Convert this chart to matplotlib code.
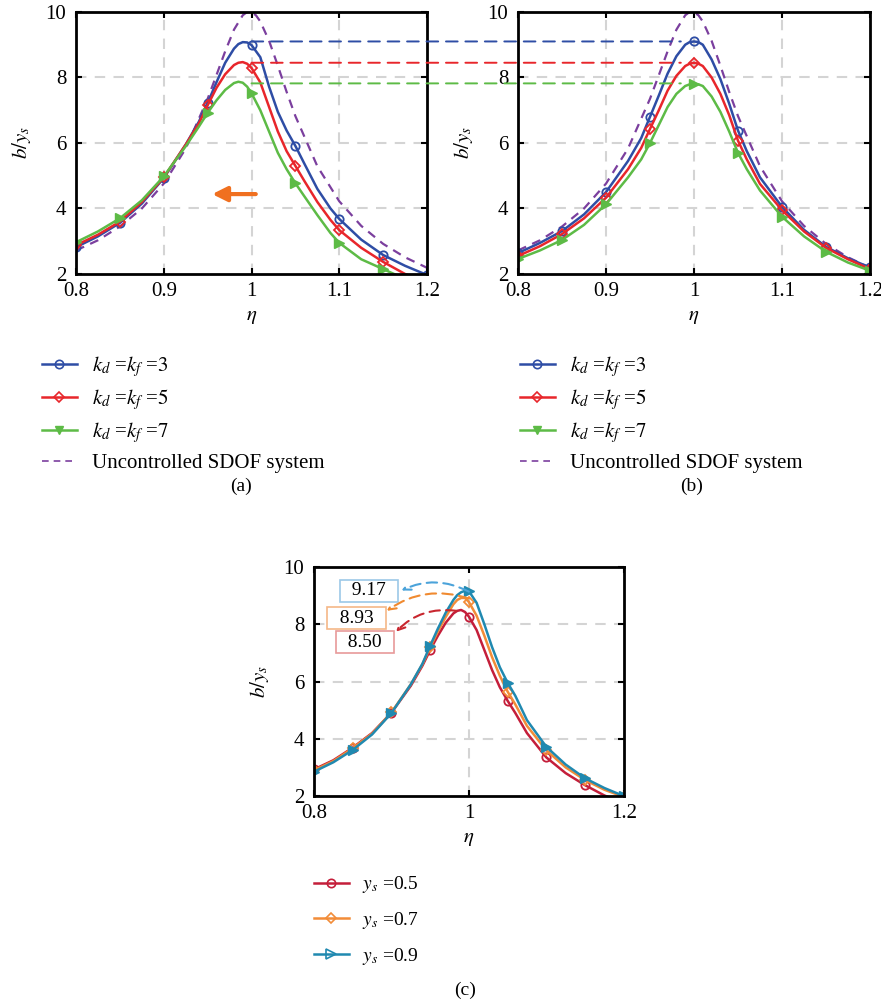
import numpy as np
import matplotlib
matplotlib.use('Agg')
import matplotlib.pyplot as plt
from matplotlib.lines import Line2D
from matplotlib.patches import ConnectionPatch

plt.rcParams['font.family'] = ['Liberation Serif', 'DejaVu Serif']
plt.rcParams['mathtext.fontset'] = 'stix'
plt.rcParams['font.size'] = 13

# ---- data ----
eta_marks = [0.80, 0.85, 0.90, 0.95, 1.00, 1.05, 1.10, 1.15, 1.20]

# uncontrolled SDOF system (same in a and b)
eta_u = [0.80, 0.825, 0.85, 0.875, 0.90, 0.925, 0.95, 0.96, 0.97, 0.98, 0.99, 0.995,
         1.00, 1.005, 1.01, 1.02, 1.03, 1.04, 1.05, 1.075, 1.10, 1.125, 1.15, 1.175, 1.20]
b_unc = [2.72, 3.03, 3.45, 4.00, 4.76, 5.83, 7.35, 8.07, 8.80, 9.46, 9.90, 10.0,
         9.99, 9.90, 9.71, 9.12, 8.36, 7.56, 6.82, 5.29, 4.22, 3.47, 2.92, 2.51, 2.19]

# panel (a)
eta_a = [0.80, 0.825, 0.85, 0.875, 0.90, 0.925, 0.94, 0.95, 0.96, 0.97, 0.98, 0.985,
         0.99, 0.995, 1.00, 1.01, 1.02, 1.03, 1.04, 1.05, 1.06, 1.075, 1.09, 1.10,
         1.125, 1.15, 1.175, 1.20]
a_k3 = [2.82, 3.15, 3.56, 4.15, 4.93, 5.95, 6.65, 7.22, 7.85, 8.45, 8.88, 9.02,
        9.08, 9.07, 8.99, 8.62, 7.72, 6.95, 6.38, 5.91, 5.38, 4.60, 4.00, 3.68,
        3.05, 2.58, 2.25, 1.97]
a_k5 = [2.88, 3.20, 3.60, 4.20, 4.95, 5.95, 6.60, 7.15, 7.68, 8.10, 8.38, 8.45,
        8.47, 8.42, 8.29, 7.85, 7.10, 6.35, 5.75, 5.30, 4.85, 4.20, 3.65, 3.34,
        2.80, 2.37, 2.00, 1.75]
a_k7 = [2.97, 3.30, 3.70, 4.25, 4.98, 5.90, 6.50, 6.92, 7.30, 7.62, 7.83, 7.87,
        7.84, 7.72, 7.52, 7.00, 6.35, 5.70, 5.20, 4.77, 4.38, 3.80, 3.25, 2.95,
        2.45, 2.15, 1.85, 1.62]

# panel (b)
eta_b = [0.80, 0.825, 0.85, 0.875, 0.90, 0.925, 0.94, 0.95, 0.96, 0.97, 0.98, 0.99,
         0.995, 1.00, 1.005, 1.01, 1.02, 1.03, 1.04, 1.05, 1.06, 1.075, 1.10, 1.125,
         1.15, 1.175, 1.20]
b_k3 = [2.64, 2.95, 3.31, 3.82, 4.50, 5.45, 6.15, 6.80, 7.45, 8.12, 8.65, 9.00,
        9.08, 9.10, 9.08, 9.00, 8.55, 7.95, 7.20, 6.38, 5.75, 4.95, 4.05, 3.35,
        2.83, 2.48, 2.20]
b_k5 = [2.55, 2.85, 3.22, 3.70, 4.33, 5.20, 5.85, 6.43, 7.00, 7.60, 8.05, 8.35,
        8.42, 8.45, 8.42, 8.35, 8.00, 7.50, 6.85, 6.07, 5.50, 4.75, 3.95, 3.30,
        2.80, 2.45, 2.15]
b_k7 = [2.46, 2.72, 3.04, 3.50, 4.13, 4.95, 5.50, 6.00, 6.55, 7.10, 7.50, 7.74,
        7.79, 7.80, 7.79, 7.74, 7.42, 6.95, 6.35, 5.70, 5.20, 4.55, 3.75, 3.15,
        2.68, 2.35, 2.10]
peak_levels = [9.10, 8.45, 7.82]

# panel (c)
eta_c = [0.80, 0.825, 0.85, 0.875, 0.90, 0.925, 0.94, 0.95, 0.96, 0.97, 0.98, 0.985,
         0.99, 0.995, 1.00, 1.01, 1.02, 1.03, 1.04, 1.05, 1.06, 1.075, 1.10, 1.125,
         1.15, 1.175, 1.20]
c_y05 = [2.93, 3.25, 3.69, 4.20, 4.91, 5.85, 6.55, 7.10, 7.60, 8.05, 8.38, 8.47,
         8.50, 8.43, 8.27, 7.80, 7.10, 6.40, 5.80, 5.33, 4.90, 4.20, 3.35, 2.80,
         2.38, 2.02, 1.75]
c_y07 = [2.90, 3.22, 3.67, 4.18, 4.92, 5.90, 6.60, 7.20, 7.75, 8.25, 8.70, 8.85,
         8.92, 8.92, 8.78, 8.30, 7.60, 6.85, 6.20, 5.65, 5.20, 4.45, 3.60, 3.00,
         2.56, 2.22, 1.97]
c_y09 = [2.85, 3.18, 3.61, 4.15, 4.90, 5.90, 6.62, 7.25, 7.85, 8.40, 8.85, 9.02,
         9.12, 9.17, 9.16, 8.75, 8.00, 7.20, 6.50, 5.96, 5.50, 4.65, 3.72, 3.10,
         2.62, 2.28, 2.00]
peak_labels = ['9.17', '8.93', '8.50']

labels_k = [r'$k_d$ =$k_f$ =$\mathit{3}$', r'$k_d$ =$k_f$ =$\mathit{5}$',
            r'$k_d$ =$k_f$ =$\mathit{7}$']
labels_y = [r'$y_s$ =0.5', r'$y_s$ =0.7', r'$y_s$ =0.9']

col_k = ['#2E4DA5', '#E8262B', '#5DBB46']
col_unc = '#7B3F9E'
col_y = ['#C41E3A', '#F28C38', '#2089B0']
grid_col = '#d4d4d4'


def marks(eta):
    return [i for i, e in enumerate(eta) if np.any(np.isclose(e, eta_marks))]


def style(ax, xticks, gridx):
    ax.set_xlim(0.8, 1.2)
    ax.set_ylim(2, 10)
    ax.set_xticks(xticks)
    ax.set_xticklabels([f'{t:g}' for t in xticks])
    ax.set_yticks([2, 4, 6, 8, 10])
    for g in gridx:
        ax.axvline(g, color=grid_col, lw=1.5, dashes=(5, 4), zorder=0)
    for g in [4, 6, 8]:
        ax.axhline(g, color=grid_col, lw=1.5, dashes=(5, 4), zorder=0)
    ax.tick_params(direction='in', top=True, right=True, length=4, width=1.5,
                   labelsize=15)
    ax.tick_params(axis='x', pad=6)
    ax.tick_params(axis='y', pad=7)
    for s in ax.spines.values():
        s.set_linewidth(2.0)
    ax.set_xlabel(r'$\eta$', fontsize=15, labelpad=4)
    ax.set_ylabel(r'$b/y_s$', fontsize=15, labelpad=9)


fig = plt.figure(figsize=(8.81, 10.07), dpi=100)
ax_a = fig.add_axes([0.0863, 0.7279, 0.3984, 0.2602])
ax_b = fig.add_axes([0.5880, 0.7279, 0.3995, 0.2602])
ax_c = fig.add_axes([0.3564, 0.2095, 0.3516, 0.2274])

# (a)
ax_a.plot(eta_u, b_unc, '--', color=col_unc, lw=1.6, dashes=(4, 3))
ax_a.plot(eta_a, a_k3, '-', color=col_k[0], lw=1.8, marker='o', ms=6, mfc='none',
          mew=1.3, markevery=marks(eta_a))
ax_a.plot(eta_a, a_k5, '-', color=col_k[1], lw=1.8, marker='D', ms=5, mfc='none',
          mew=1.3, markevery=marks(eta_a))
ax_a.plot(eta_a, a_k7, '-', color=col_k[2], lw=1.8, marker='>', ms=7,
          markevery=marks(eta_a))
ax_a.annotate('', xy=(0.952, 4.44), xytext=(1.008, 4.44),
              arrowprops=dict(arrowstyle='-|>', color='#F07020', lw=3, mutation_scale=22))
style(ax_a, [0.8, 0.9, 1.0, 1.1, 1.2], [0.9, 1.0, 1.1])

# (b)
ax_b.plot(eta_u, b_unc, '--', color=col_unc, lw=1.6, dashes=(4, 3))
ax_b.plot(eta_b, b_k3, '-', color=col_k[0], lw=1.8, marker='o', ms=6, mfc='none',
          mew=1.3, markevery=marks(eta_b))
ax_b.plot(eta_b, b_k5, '-', color=col_k[1], lw=1.8, marker='D', ms=5, mfc='none',
          mew=1.3, markevery=marks(eta_b))
ax_b.plot(eta_b, b_k7, '-', color=col_k[2], lw=1.8, marker='>', ms=7,
          markevery=marks(eta_b))
style(ax_b, [0.8, 0.9, 1.0, 1.1, 1.2], [0.9, 1.0, 1.1])

# dashed guide lines from (a) to (b)
for lev, c in zip(peak_levels, col_k):
    con = ConnectionPatch(xyA=(1.0, lev), coordsA=ax_a.transData,
                          xyB=(0.985, lev), coordsB=ax_b.transData,
                          color=c, lw=1.4, linestyle=(0, (6, 4)), zorder=5)
    fig.add_artist(con)

# (c)
ax_c.plot(eta_c, c_y05, '-', color=col_y[0], lw=1.8, marker='o', ms=6, mfc='none',
          mew=1.3, markevery=marks(eta_c))
ax_c.plot(eta_c, c_y07, '-', color=col_y[1], lw=1.8, marker='D', ms=5, mfc='none',
          mew=1.3, markevery=marks(eta_c))
ax_c.plot(eta_c, c_y09, '-', color=col_y[2], lw=1.8, marker='>', ms=7,
          markevery=marks(eta_c))
style(ax_c, [0.8, 1.0, 1.2], [1.0])

box_pos = [(0.871, 9.17), (0.855, 8.21), (0.866, 7.38)]
box_edge = ['#9CC8E8', '#F5B887', '#E89A9A']
arr_col = ['#4BA3DA', '#F08A30', '#C8262E']
arr_from = [(1.0, 9.14), (1.0, 8.90), (0.984, 8.47)]
arr_to = [(0.913, 9.18), (0.894, 8.47), (0.906, 7.74)]
for lab, pos, ec, ac, p0, p1 in zip(peak_labels, box_pos, box_edge, arr_col, arr_from, arr_to):
    ax_c.text(pos[0], pos[1], '  ' + lab + '  ', ha='center', va='center', fontsize=14,
              bbox=dict(boxstyle='square,pad=0.12', fc='white', ec=ec, lw=1.2), zorder=6)
    ax_c.annotate('', xy=p1, xytext=p0,
                  arrowprops=dict(arrowstyle='->', color=ac, lw=1.5, linestyle=(0, (5, 3)),
                                  connectionstyle='arc3,rad=0.25', shrinkA=0, shrinkB=0),
                  zorder=6)

# legends
h_k = [Line2D([], [], color=col_k[0], lw=1.8, marker='o', ms=6, mfc='none', mew=1.2),
       Line2D([], [], color=col_k[1], lw=1.8, marker='D', ms=5, mfc='none', mew=1.2),
       Line2D([], [], color=col_k[2], lw=1.8, marker='v', ms=6),
       Line2D([], [], color=col_unc, lw=1.2, dashes=(4, 3))]
lab_k = labels_k + ['Uncontrolled SDOF system']
for x0 in [0.026, 0.5687]:
    fig.legend(h_k, lab_k, loc='upper left', bbox_to_anchor=(x0, 0.667), frameon=False,
               fontsize=15, handlelength=1.7, handletextpad=0.7, labelspacing=0.40)

h_y = [Line2D([], [], color=col_y[0], lw=1.8, marker='o', ms=6, mfc='none', mew=1.2),
       Line2D([], [], color=col_y[1], lw=1.8, marker='D', ms=5, mfc='none', mew=1.2),
       Line2D([], [], color=col_y[2], lw=1.8, marker='>', ms=7, mfc='none', mew=1.2)]
fig.legend(h_y, labels_y, loc='upper left', bbox_to_anchor=(0.3364, 0.149), frameon=False,
           fontsize=14, handlelength=1.8, handletextpad=0.7, labelspacing=0.75)

fig.text(0.2736, 0.5175, '(a)', ha='center', va='center', fontsize=14)
fig.text(0.7855, 0.5175, '(b)', ha='center', va='center', fontsize=14)
fig.text(0.5278, 0.0169, '(c)', ha='center', va='center', fontsize=14)

fig.savefig('out.png', dpi=100)
